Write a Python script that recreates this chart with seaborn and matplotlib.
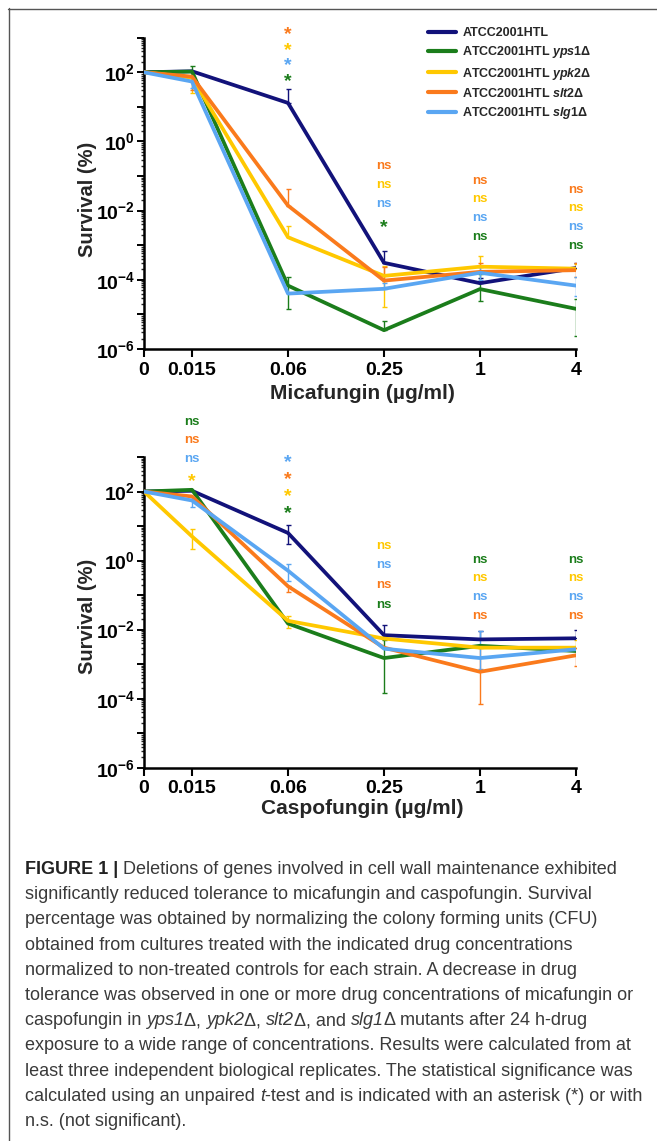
import numpy as np
import pandas as pd
import matplotlib
matplotlib.use("Agg")
import matplotlib.pyplot as plt
import matplotlib.transforms as mtransforms
from matplotlib.lines import Line2D
from matplotlib.ticker import LogLocator, FuncFormatter, NullFormatter, FixedLocator
import seaborn as sns

nan = np.nan

# ---------------- data ----------------
conc = ["0", "0.015", "0.06", "0.25", "1", "4"]
strain_keys = ["wt", "yps1", "ypk2", "slt2", "slg1"]
legend_labels = ["ATCC2001HTL",
                 r"ATCC2001HTL $\mathit{yps1}$Δ",
                 r"ATCC2001HTL $\mathit{ypk2}$Δ",
                 r"ATCC2001HTL $\mathit{slt2}$Δ",
                 r"ATCC2001HTL $\mathit{slg1}$Δ"]
colors = {"wt": "#12127a", "yps1": "#1b7d1b", "ypk2": "#ffc800",
          "slt2": "#fa7a1c", "slg1": "#5aa6f2"}

# Micafungin survival (%)
mica_wt = [100, 107, 13, 3.1e-4, 8.0e-5, 2.2e-4]
mica_yps1 = [100, 105, 6.8e-5, 3.5e-6, 5.4e-5, 1.45e-5]
mica_ypk2 = [100, 70, 1.7e-3, 1.3e-4, 2.4e-4, 2.1e-4]
mica_slt2 = [100, 75, 1.4e-2, 9.5e-5, 1.7e-4, 1.9e-4]
mica_slg1 = [100, 54, 4.0e-5, 5.5e-5, 1.6e-4, 6.8e-5]
# error bar bounds (upper / lower), nan = none drawn
mica_wt_hi = [nan, nan, 32, 6.9e-4, 1.1e-4, 3.0e-4]
mica_wt_lo = [nan, nan, nan, nan, nan, nan]
mica_yps1_hi = [nan, 150, 1.2e-4, 6.6e-6, 1.5e-4, 2.7e-5]
mica_yps1_lo = [nan, nan, 1.4e-5, nan, 2.5e-5, 2.3e-6]
mica_ypk2_hi = [nan, nan, 3.6e-3, 2.5e-4, 5.0e-4, 2.8e-4]
mica_ypk2_lo = [nan, 25, nan, 1.6e-5, nan, nan]
mica_slt2_hi = [nan, nan, 4.2e-2, 2.3e-4, 3.0e-4, 3.0e-4]
mica_slt2_lo = [nan, 30, nan, nan, nan, 1.2e-4]
mica_slg1_hi = [nan, nan, nan, 8.0e-5, 2.4e-4, 1.2e-4]
mica_slg1_lo = [nan, 35, nan, nan, 1.0e-4, 3.5e-5]

# Caspofungin survival (%)
casp_wt = [100, 105, 6.3, 6.9e-3, 5.2e-3, 5.6e-3]
casp_yps1 = [100, 112, 1.5e-2, 1.5e-3, 3.4e-3, 2.4e-3]
casp_ypk2 = [100, 5.0, 1.8e-2, 5.5e-3, 3.0e-3, 3.0e-3]
casp_slt2 = [100, 72, 0.18, 3.0e-3, 6.0e-4, 1.8e-3]
casp_slg1 = [100, 55, 0.51, 2.8e-3, 1.5e-3, 2.7e-3]
casp_wt_hi = [nan, nan, 10.5, 1.4e-2, 9.0e-3, 9.5e-3]
casp_wt_lo = [nan, nan, 3.0, nan, nan, nan]
casp_yps1_hi = [nan, nan, nan, 5.0e-3, nan, nan]
casp_yps1_lo = [nan, nan, nan, 1.5e-4, nan, nan]
casp_ypk2_hi = [nan, 8.3, 2.5e-2, nan, nan, 5.0e-3]
casp_ypk2_lo = [nan, 2.2, 1.1e-2, nan, nan, nan]
casp_slt2_hi = [nan, nan, nan, nan, 3.0e-3, 3.0e-3]
casp_slt2_lo = [nan, nan, 0.12, nan, 6.8e-5, 9.0e-4]
casp_slg1_hi = [nan, nan, 0.8, nan, 9.0e-3, nan]
casp_slg1_lo = [nan, 35, 0.25, nan, 7.0e-4, nan]

# significance labels (top to bottom) per concentration
mica_sig_conc = ["0.06", "0.25", "1", "4"]
mica_sig_text = [["*", "*", "*", "*"], ["ns", "ns", "ns", "*"],
                 ["ns", "ns", "ns", "ns"], ["ns", "ns", "ns", "ns"]]
mica_sig_strain = [["slt2", "ypk2", "slg1", "yps1"], ["slt2", "ypk2", "slg1", "yps1"],
                   ["slt2", "ypk2", "slg1", "yps1"], ["slt2", "ypk2", "slg1", "yps1"]]
casp_sig_conc = ["0.015", "0.06", "0.25", "1", "4"]
casp_sig_text = [["ns", "ns", "ns", "*"], ["*", "*", "*", "*"], ["ns", "ns", "ns", "ns"],
                 ["ns", "ns", "ns", "ns"], ["ns", "ns", "ns", "ns"]]
casp_sig_strain = [["yps1", "slt2", "slg1", "ypk2"], ["slg1", "slt2", "ypk2", "yps1"],
                   ["ypk2", "slg1", "slt2", "yps1"], ["yps1", "ypk2", "slg1", "slt2"],
                   ["yps1", "ypk2", "slg1", "slt2"]]

caption_lines = [
    [("FIGURE 1 |", "b"), (" Deletions of genes involved in cell wall maintenance exhibited", "n")],
    [("significantly reduced tolerance to micafungin and caspofungin. Survival", "n")],
    [("percentage was obtained by normalizing the colony forming units (CFU)", "n")],
    [("obtained from cultures treated with the indicated drug concentrations", "n")],
    [("normalized to non-treated controls for each strain. A decrease in drug", "n")],
    [("tolerance was observed in one or more drug concentrations of micafungin or", "n")],
    [("caspofungin in ", "n"), ("yps1", "i"), ("Δ, ", "n"), ("ypk2", "i"), ("Δ, ", "n"),
     ("slt2", "i"), ("Δ, and ", "n"), ("slg1", "i"), ("Δ mutants after 24 h-drug", "n")],
    [("exposure to a wide range of concentrations. Results were calculated from at", "n")],
    [("least three independent biological replicates. The statistical significance was", "n")],
    [("calculated using an unpaired ", "n"), ("t", "i"),
     ("-test and is indicated with an asterisk (*) or with", "n")],
    [("n.s. (not significant).", "n")],
]

# ---------------- style ----------------
W, H = 657, 1141
sns.set_theme(style="ticks")
plt.rcParams["font.family"] = ["Liberation Sans", "DejaVu Sans"]
plt.rcParams.update({
    "mathtext.fontset": "custom",
    "mathtext.rm": "Liberation Sans:bold",
    "mathtext.bf": "Liberation Sans:bold",
    "mathtext.it": "Liberation Sans:italic:bold",
    "mathtext.default": "rm",
})

fig = plt.figure(figsize=(W / 100, H / 100), dpi=100)
fig.patch.set_facecolor("white")


def fy(py):
    return 1 - py / H


# axes rectangles (pixels): left 144, right 576
ax1 = fig.add_axes([144 / W, fy(349), 432 / W, (349 - 37.7) / H])
ax2 = fig.add_axes([144 / W, fy(767.7), 432 / W, (767.7 - 457) / H])

xpos = np.r_[-0.5, np.arange(len(conc) - 1)]


def draw_panel(ax, vals, his, los, xlabel, xl_off, yl_frac, sig_conc, sig_text, sig_strain, sig_layout):
    rows = []
    for k in strain_keys:
        for p, v in zip(xpos, vals[k]):
            rows.append({"pos": p, "survival": v, "strain": k})
    df = pd.DataFrame(rows)
    for k in strain_keys:
        y = np.asarray(vals[k], float)
        hi = np.asarray(his[k], float)
        lo = np.asarray(los[k], float)
        m = np.isfinite(hi) | np.isfinite(lo)
        up = np.where(np.isfinite(hi), hi - y, 0)
        dn = np.where(np.isfinite(lo), y - lo, 0)
        ax.errorbar(xpos[m], y[m], yerr=[dn[m], up[m]], fmt="none", ecolor=colors[k],
                    elinewidth=1.0, capsize=1.8, capthick=1.0, zorder=1)
    sns.lineplot(data=df, x="pos", y="survival", hue="strain", hue_order=strain_keys,
                 palette=colors, estimator=None, sort=False, lw=2.7, ax=ax,
                 legend=True, zorder=3)
    ax.set_yscale("log")
    ax.set_ylim(1e-6, 1e3)
    ax.set_xlim(-0.5, 4)
    ax.yaxis.set_major_locator(LogLocator(base=10, subs=(1.0,), numticks=20))
    ax.yaxis.set_minor_locator(LogLocator(base=10, subs=np.arange(2, 10), numticks=20))
    ax.yaxis.set_minor_formatter(NullFormatter())

    def fmt(v, _):
        e = int(round(np.log10(v)))
        return r"$\mathrm{10^{%d}}$" % e if e % 2 == 0 and e <= 2 else ""
    ax.yaxis.set_major_formatter(FuncFormatter(fmt))
    ax.xaxis.set_major_locator(FixedLocator(xpos))
    ax.set_xticklabels(conc)
    for lab in ax.get_xticklabels() + ax.get_yticklabels():
        lab.set_fontweight("bold")
        lab.set_fontsize(14)
    ax.tick_params(axis="x", which="major", direction="out", length=6, width=1.5, pad=3, colors="black")
    ax.tick_params(axis="y", which="major", direction="out", length=5, width=1.4, pad=1.5, colors="black")
    ax.tick_params(axis="y", which="minor", direction="out", length=2.5, width=1.0)
    for s in ["top", "right"]:
        ax.spines[s].set_visible(False)
    for s in ["left", "bottom"]:
        ax.spines[s].set_linewidth(1.8)
        ax.spines[s].set_color("black")
    ax.set_facecolor("white")
    ax.grid(False)
    ax.set_xlabel(xlabel, fontsize=15, fontweight="bold", va="center")
    ax.xaxis.set_label_coords(0.505, xl_off)
    ax.set_ylabel("Survival (%)", fontsize=14.5, fontweight="bold", va="center")
    ax.yaxis.set_label_coords(-0.13, yl_frac)

    trans = mtransforms.blended_transform_factory(ax.transData, fig.transFigure)
    for c, texts, strs, (y0, step) in zip(sig_conc, sig_text, sig_strain, sig_layout):
        xp = xpos[conc.index(c)]
        for i, (t, s) in enumerate(zip(texts, strs)):
            yc = y0 + i * step
            if t == "*":
                ax.text(xp, fy(yc + 0.45 * 19.4), t, transform=trans, ha="center", va="baseline",
                        fontsize=14, fontweight="bold", color=colors[s], clip_on=False)
            else:
                ax.text(xp, fy(yc + 0.28 * 13.2), t, transform=trans, ha="center", va="baseline",
                        fontsize=9.5, fontweight="bold", color=colors[s], clip_on=False)


mica_vals = dict(zip(strain_keys, [mica_wt, mica_yps1, mica_ypk2, mica_slt2, mica_slg1]))
mica_his = dict(zip(strain_keys, [mica_wt_hi, mica_yps1_hi, mica_ypk2_hi, mica_slt2_hi, mica_slg1_hi]))
mica_los = dict(zip(strain_keys, [mica_wt_lo, mica_yps1_lo, mica_ypk2_lo, mica_slt2_lo, mica_slg1_lo]))
casp_vals = dict(zip(strain_keys, [casp_wt, casp_yps1, casp_ypk2, casp_slt2, casp_slg1]))
casp_his = dict(zip(strain_keys, [casp_wt_hi, casp_yps1_hi, casp_ypk2_hi, casp_slt2_hi, casp_slg1_hi]))
casp_los = dict(zip(strain_keys, [casp_wt_lo, casp_yps1_lo, casp_ypk2_lo, casp_slt2_lo, casp_slg1_lo]))

draw_panel(ax1, mica_vals, mica_his, mica_los, "Micafungin (µg/ml)", -44 / 311, 0.482,
           mica_sig_conc, mica_sig_text, mica_sig_strain,
           [(30.5, 15.5), (165, 19.3), (180, 18.7), (189, 18.7)])
draw_panel(ax2, casp_vals, casp_his, casp_los, "Caspofungin (µg/ml)", -40.5 / 310.7, 0.486,
           casp_sig_conc, casp_sig_text, casp_sig_strain,
           [(421, 18.7), (458, 17), (545, 19.7), (559, 18.7), (559, 18.7)])

handles, _ = ax1.get_legend_handles_labels()
ax1.get_legend().remove()
ax2.get_legend().remove()
for h in handles:
    h.set_linewidth(3)
fig.legend(handles, legend_labels, loc="upper left", bbox_to_anchor=(428 / W, fy(27)),
           frameon=False, prop={"weight": "bold", "size": 9}, handlelength=2.2,
           handletextpad=0.55, labelspacing=0.42, borderpad=0, borderaxespad=0)

# frame lines (top and left)
fig.add_artist(Line2D([8 / W, 1], [fy(8.5), fy(8.5)], transform=fig.transFigure, color="#555555", lw=1.0))
fig.add_artist(Line2D([8.5 / W, 8.5 / W], [fy(8), 0], transform=fig.transFigure, color="#555555", lw=1.0))

# caption
renderer = fig.canvas.get_renderer()
cap_size = 13.0
cap_color = "#3a3a3a"


def seg_width(text, weight, style):
    t1 = fig.text(0, 0, "|" + text + "|", fontsize=cap_size, fontweight=weight, fontstyle=style)
    t2 = fig.text(0, 0, "||", fontsize=cap_size, fontweight=weight, fontstyle=style)
    w = t1.get_window_extent(renderer).width - t2.get_window_extent(renderer).width
    t1.remove()
    t2.remove()
    return w


base0, lstep = 874.0, 25.2
for i, line in enumerate(caption_lines):
    x = 25.0
    yb = base0 + i * lstep
    for text, st in line:
        weight = "bold" if st == "b" else "normal"
        style = "italic" if st == "i" else "normal"
        color = "#222222" if st == "b" else cap_color
        fig.text(x / W, fy(yb), text, fontsize=cap_size, fontweight=weight, fontstyle=style,
                 color=color, va="baseline", ha="left")
        x += seg_width(text, weight, style)

fig.savefig("out.png", dpi=100, facecolor="white")
